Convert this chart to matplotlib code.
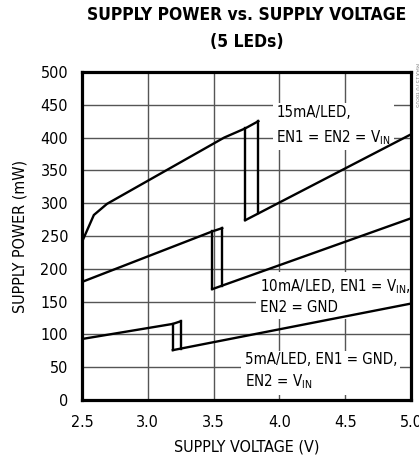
import numpy as np
import matplotlib
matplotlib.use('Agg')
import matplotlib.pyplot as plt

plt.rcParams['font.family'] = ['DejaVu Sans']
plt.rcParams['font.stretch'] = 'condensed'
plt.rcParams['mathtext.fontset'] = 'custom'
plt.rcParams['mathtext.rm'] = 'DejaVu Sans:stretch=condensed'

# axis ticks
x_ticks = [2.5, 3.0, 3.5, 4.0, 4.5, 5.0]
y_ticks = [0, 50, 100, 150, 200, 250, 300, 350, 400, 450, 500]

# 15mA/LED, EN1 = EN2 = VIN
v15_up = [2.50, 2.59, 2.69, 3.58, 3.74, 3.84]
p15_up = [241, 282, 299, 400, 414, 425]
v15_dn = [3.74, 5.00]
p15_dn = [274, 405]

# 10mA/LED, EN1 = VIN, EN2 = GND
v10_up = [2.50, 3.49, 3.565]
p10_up = [180, 257, 262]
v10_dn = [3.49, 5.00]
p10_dn = [169, 277]

# 5mA/LED, EN1 = GND, EN2 = VIN
v5_up = [2.50, 3.19, 3.25]
p5_up = [93, 116, 120]
v5_dn = [3.19, 5.00]
p5_dn = [76, 147]


def draw_curve(ax, v_up, p_up, v_dn, p_dn):
    """upper branch, hysteresis loop and lower branch"""
    kw = dict(color='black', lw=1.7, zorder=3, solid_joinstyle='miter')
    ax.plot(v_up, p_up, **kw)
    # left edge of the loop
    ax.plot([v_up[-2], v_dn[0]], [p_up[-2], p_dn[0]], **kw)
    # right edge of the loop, drops onto the lower branch
    p_bot = np.interp(v_up[-1], v_dn, p_dn)
    ax.plot([v_up[-1], v_up[-1]], [p_up[-1], p_bot], **kw)
    ax.plot(v_dn, p_dn, **kw)


W, H = 419, 457
fig = plt.figure(figsize=(W / 100, H / 100), dpi=100)
ax = fig.add_axes([82 / W, 57 / H, 329 / W, 328 / H])

draw_curve(ax, v15_up, p15_up, v15_dn, p15_dn)
draw_curve(ax, v10_up, p10_up, v10_dn, p10_dn)
draw_curve(ax, v5_up, p5_up, v5_dn, p5_dn)

ax.set_xlim(2.5, 5.0)
ax.set_ylim(0, 500)
ax.set_xticks(x_ticks)
ax.set_xticklabels([f'{t:.1f}' for t in x_ticks])
ax.set_yticks(y_ticks)
ax.tick_params(length=0, labelsize=11.5)
ax.tick_params(axis='x', pad=11)
ax.tick_params(axis='y', pad=10)
ax.grid(True, color='#555555', lw=1.0, zorder=0)
ax.set_axisbelow(True)
for s in ax.spines.values():
    s.set_linewidth(2.3)
    s.set_zorder(4)

ax.set_xlabel('SUPPLY VOLTAGE (V)', fontsize=11.5, labelpad=7)
ax.set_ylabel('SUPPLY POWER (mW)', fontsize=11.5, labelpad=9)

box = dict(facecolor='white', edgecolor='none', pad=2.5)
lab_fs = 10.8
ax.text(3.975, 418, '15mA/LED,\nEN1 = EN2 = V$_{\\mathrm{IN}}$', fontsize=lab_fs,
        ha='left', va='center', linespacing=1.6, bbox=box, zorder=2)
ax.text(3.85, 158, '10mA/LED, EN1 = V$_{\\mathrm{IN}}$,\nEN2 = GND', fontsize=lab_fs,
        ha='left', va='center', linespacing=1.35, bbox=box, zorder=2)
ax.text(3.735, 43, '5mA/LED, EN1 = GND,\nEN2 = V$_{\\mathrm{IN}}$', fontsize=lab_fs,
        ha='left', va='center', linespacing=1.35, bbox=box, zorder=2)

fig.text(247 / W, 1 - 15 / H, 'SUPPLY POWER vs. SUPPLY VOLTAGE', fontsize=12.5,
         fontweight='bold', ha='center', va='center')
fig.text(247 / W, 1 - 42 / H, '(5 LEDs)', fontsize=12.5,
         fontweight='bold', ha='center', va='center')
fig.text(416 / W, 1 - 85 / H, 'MAX1570 toc05', fontsize=4.5, color='#888888',
         rotation=270, ha='center', va='center')

fig.savefig('out.png', dpi=100)
